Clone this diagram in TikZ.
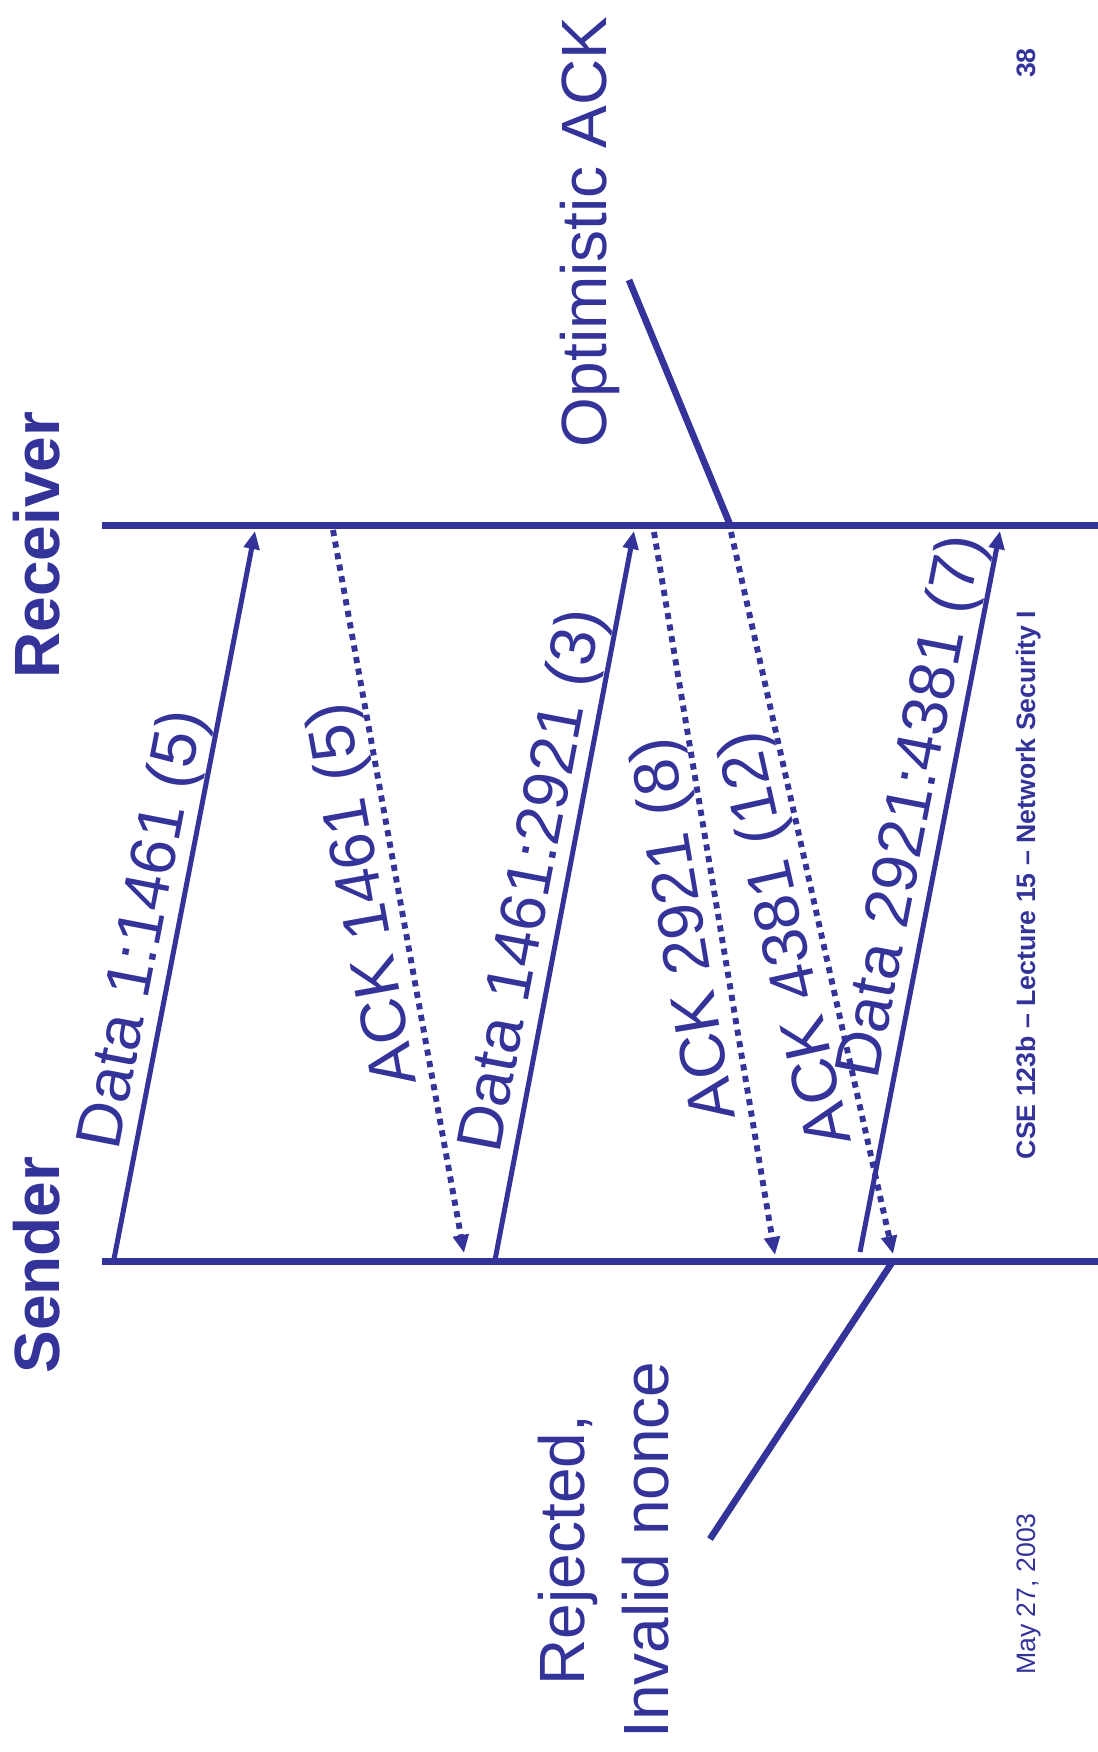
\documentclass[tikz,border=0pt]{standalone}
\usepackage{fontspec}
\setmainfont{Liberation Sans}
\usetikzlibrary{arrows.meta}
\definecolor{slideblue}{RGB}{51,51,153}
\begin{document}
\begin{tikzpicture}[x=0.75pt,y=0.75pt,
  lifeline/.style={draw=slideblue,line width=5.25pt},
  msg/.style={draw=slideblue,line width=3.75pt,-{Triangle[length=13.5pt,width=11.5pt]},color=slideblue},
  ackmsg/.style={msg,line width=4.4pt,dash pattern=on 4.6pt off 4.2pt},
  pointer/.style={draw=slideblue,line width=5pt},
  lbl/.style={text=slideblue,anchor=south,inner sep=0pt,font=\fontsize{48}{58}\selectfont},
  title/.style={text=slideblue,anchor=base,rotate=90,inner sep=0pt,font=\fontsize{48}{58}\selectfont\bfseries},
  note/.style={text=slideblue,rotate=90,inner sep=0pt,font=\fontsize{48}{63}\selectfont},
  footb/.style={text=slideblue,anchor=base,rotate=90,inner sep=0pt,font=\fontsize{20}{24}\selectfont\bfseries},
  footr/.style={text=slideblue,anchor=base,rotate=90,inner sep=0pt,font=\fontsize{20}{24}\selectfont}
]
\useasboundingbox (0,0) rectangle (1098,-1752);
\fill[white] (0,0) rectangle (1098,-1752);

% lifelines
\coordinate (rcvL) at (102,-525);
\coordinate (rcvR) at (1098,-525);
\coordinate (sndL) at (102,-1261);
\coordinate (sndR) at (1098,-1261);
\draw[lifeline] (rcvL) -- (rcvR);
\draw[lifeline] (sndL) -- (sndR);

% titles
\node[title] (receiver) at (59,-545) {Receiver};
\node[title] (sender) at (59,-1265) {Sender};

% message end points
\coordinate (d1s) at (114,-1259);
\coordinate (d1r) at (255,-531);
\coordinate (a1r) at (333,-530);
\coordinate (a1s) at (464,-1253);
\coordinate (d2s) at (495,-1260);
\coordinate (d2r) at (634,-531);
\coordinate (a2r) at (654,-532);
\coordinate (a2s) at (775,-1255);
\coordinate (a3r) at (731,-532);
\coordinate (a3s) at (893,-1254);
\coordinate (d3s) at (860,-1252);
\coordinate (d3r) at (1000,-531);

% messages
\draw[msg] (d1s) -- node[lbl,pos=0.444,rotate=79.04] (l1) {Data 1:1461 (5)} (d1r);
\draw[ackmsg] (a1r) -- node[lbl,pos=0.496,rotate=100.27] (l2) {ACK 1461 (5)} (a1s);
\draw[msg] (d2s) -- node[lbl,pos=0.512,rotate=79.21] (l3) {Data 1461:2921 (3)} (d2r);
\draw[ackmsg] (a2r) -- node[lbl,pos=0.542,rotate=99.50] (l4) {ACK 2921 (8)} (a2s);
\draw[ackmsg] (a3r) -- node[lbl,pos=0.553,rotate=102.65] (l5) {ACK 4381 (12)} (a3s);
\draw[msg] (d3s) -- node[lbl,pos=0.609,rotate=79.01] (l6) {Data 2921:4381 (7)} (d3r);

% annotations
\node[note,anchor=base] (optack) at (606,-232) {Optimistic ACK};
\coordinate (optTail) at (629,-280);
\coordinate (optHead) at (731,-527);
\draw[pointer] (optTail) -- (optHead);

\node[note,align=center,anchor=center] (rejected) at (604,-1550) {Rejected,\\Invalid nonce};
\coordinate (rejHead) at (893,-1261);
\coordinate (rejTail) at (710,-1539);
\draw[pointer] (rejHead) -- (rejTail);

% footer
\node[footb] (pagenum) at (1035,-63) {38};
\node[footb] (course) at (1035,-885) {CSE 123b – Lecture 15 – Network Security I};
\node[footr] (date) at (1035,-1594) {May 27, 2003};
\end{tikzpicture}
\end{document}
